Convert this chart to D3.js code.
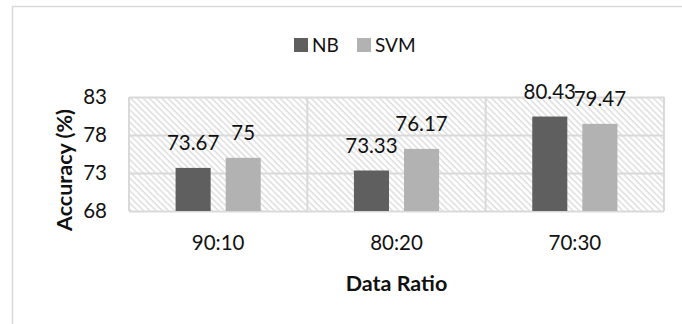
<!DOCTYPE html>
<html>
<head>
<meta charset="utf-8">
<script src="https://cdn.jsdelivr.net/npm/d3@7"></script>
<style>
  html, body { margin: 0; padding: 0; background: #fff; }
  svg { display: block; font-family: Lato, "Open Sans", sans-serif; }
</style>
</head>
<body>
<div id="chart"></div>
<script>
const categories = ['90:10', '80:20', '70:30'];
const seriesNames = ['NB', 'SVM'];
const nbValues = [73.67, 73.33, 80.43];
const svmValues = [75, 76.17, 79.47];
const yTicks = [68, 73, 78, 83];

const colors = { NB: '#5f5f5f', SVM: '#b2b2b2' };
const values = { NB: nbValues, SVM: svmValues };

const W = 682, H = 324;
const plot = { left: 129, right: 664, top: 97, bottom: 211 };

const svg = d3.select('#chart').append('svg')
  .attr('width', W).attr('height', H);

// outer chart border (cut off on the right and bottom like the reference)
svg.append('rect')
  .attr('x', 12.5).attr('y', 6.5)
  .attr('width', W + 10).attr('height', H + 10)
  .attr('fill', '#fff').attr('stroke', '#d9d9d9').attr('stroke-width', 1.5);

// hatch pattern for the plot area
const defs = svg.append('defs');
defs.append('pattern')
  .attr('id', 'hatch')
  .attr('patternUnits', 'userSpaceOnUse')
  .attr('width', 4.4).attr('height', 4.4)
  .attr('patternTransform', 'rotate(-45)')
  .append('line')
  .attr('x1', 1).attr('x2', 1).attr('y1', 0).attr('y2', 4.4)
  .attr('stroke', '#d9d9d9').attr('stroke-width', 1.3);

const x = d3.scaleBand()
  .domain(categories)
  .range([plot.left, plot.right]);

const xInner = d3.scaleBand()
  .domain(seriesNames)
  .range([0, x.bandwidth()])
  .paddingInner(0.3)
  .paddingOuter(0.93);

const y = d3.scaleLinear()
  .domain([68, 83])
  .range([plot.bottom, plot.top]);

// plot background
svg.append('rect')
  .attr('x', plot.left).attr('y', plot.top)
  .attr('width', plot.right - plot.left).attr('height', plot.bottom - plot.top)
  .attr('fill', 'url(#hatch)');

// horizontal gridlines
svg.append('g').attr('transform', `translate(${plot.left},0)`)
  .call(d3.axisLeft(y).tickValues(yTicks).tickSize(-(plot.right - plot.left)).tickFormat(''))
  .call(ax => ax.select('.domain').remove())
  .call(ax => ax.selectAll('line').attr('stroke', '#d9d9d9').attr('stroke-width', 2));

// vertical category separators
svg.append('g')
  .selectAll('line')
  .data(categories.concat(['end']))
  .join('line')
  .attr('x1', (d, i) => i < categories.length ? x(d) : plot.right)
  .attr('x2', (d, i) => i < categories.length ? x(d) : plot.right)
  .attr('y1', plot.top).attr('y2', plot.bottom)
  .attr('stroke', '#d9d9d9').attr('stroke-width', 2);

// bars
const groups = svg.append('g')
  .selectAll('g')
  .data(categories)
  .join('g')
  .attr('transform', d => `translate(${x(d)},0)`);

groups.selectAll('rect')
  .data((c, i) => seriesNames.map(s => ({ s, v: values[s][i] })))
  .join('rect')
  .attr('x', d => xInner(d.s))
  .attr('width', xInner.bandwidth())
  .attr('y', d => y(d.v))
  .attr('height', d => y(68) - y(d.v))
  .attr('fill', d => colors[d.s]);

// value labels
groups.selectAll('text')
  .data((c, i) => seriesNames.map(s => ({ s, v: values[s][i] })))
  .join('text')
  .attr('x', d => xInner(d.s) + xInner.bandwidth() / 2)
  .attr('y', d => y(d.v) - 25)
  .attr('dy', '0.36em')
  .attr('text-anchor', 'middle')
  .attr('font-size', '20.5px').attr('fill', '#111')
  .text(d => d.v);

// y axis labels
svg.append('g').attr('transform', `translate(${plot.left},0)`)
  .call(d3.axisLeft(y).tickValues(yTicks).tickSize(0).tickPadding(22))
  .call(ax => ax.select('.domain').remove())
  .call(ax => ax.selectAll('text')
    .attr('font-size', '20.5px').attr('fill', '#111')
    .attr('font-family', 'Lato, "Open Sans", sans-serif'));

// x axis labels
svg.append('g').attr('transform', `translate(0,${plot.bottom})`)
  .call(d3.axisBottom(x).tickSize(0).tickPadding(24))
  .call(ax => ax.select('.domain').remove())
  .call(ax => ax.selectAll('text')
    .attr('font-size', '20.5px').attr('fill', '#111')
    .attr('font-family', 'Lato, "Open Sans", sans-serif'));

// axis titles
svg.append('text')
  .attr('x', (plot.left + plot.right) / 2).attr('y', 291)
  .attr('text-anchor', 'middle')
  .attr('font-size', '21.5px').attr('font-weight', 'bold').attr('fill', '#111')
  .text('Data Ratio');

svg.append('text')
  .attr('transform', 'rotate(-90)')
  .attr('x', -170).attr('y', 72)
  .attr('text-anchor', 'middle')
  .attr('font-size', '21.5px').attr('font-weight', 'bold').attr('fill', '#111')
  .text('Accuracy (%)');

// legend
const legend = svg.append('g');
const legendX = [294, 357];
seriesNames.forEach((s, i) => {
  legend.append('rect')
    .attr('x', legendX[i]).attr('y', 38)
    .attr('width', 14).attr('height', 14)
    .attr('fill', colors[s]);
  legend.append('text')
    .attr('x', legendX[i] + 18).attr('y', 45)
    .attr('dy', '0.36em')
    .attr('font-size', '19px').attr('fill', '#111')
    .text(s);
});
</script>
</body>
</html>
